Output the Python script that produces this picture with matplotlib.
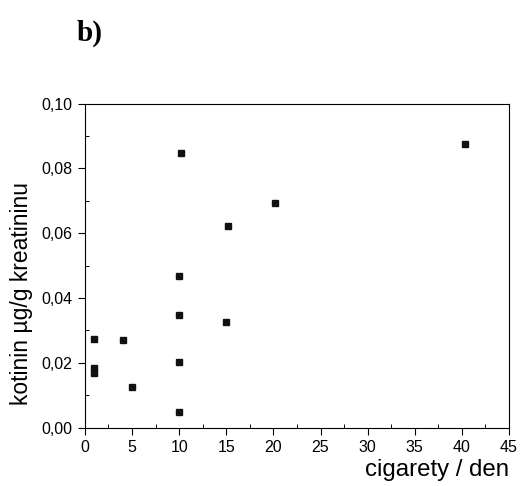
import numpy as np
import matplotlib
matplotlib.use('Agg')
import matplotlib.pyplot as plt
from matplotlib.ticker import MultipleLocator

# values
cigarettes = [1, 1, 1, 4, 5, 10, 10, 10, 10, 10.2, 15, 15.2, 20.2, 40.3]
cotinine = [0.0275, 0.0185, 0.0170, 0.0272, 0.0127, 0.0049, 0.0202, 0.0348,
            0.0468, 0.0846, 0.0325, 0.0622, 0.0692, 0.0875]

x_ticks = [0, 5, 10, 15, 20, 25, 30, 35, 40, 45]
y_ticks = [0.00, 0.02, 0.04, 0.06, 0.08, 0.10]
y_tick_labels = ['0,00', '0,02', '0,04', '0,06', '0,08', '0,10']

plt.rcParams['font.family'] = ['Liberation Sans', 'DejaVu Sans']

fig = plt.figure(figsize=(5.21, 4.86), dpi=100)
ax = fig.add_axes([0.163, 0.120, 0.814, 0.667])

ax.plot(cigarettes, cotinine, 's', color='#111111', markersize=4.3, linestyle='none')

ax.set_xlim(0, 45)
ax.set_ylim(0, 0.10)
ax.set_xticks(x_ticks)
ax.set_xticklabels([str(t) for t in x_ticks])
ax.set_yticks(y_ticks)
ax.set_yticklabels(y_tick_labels)
ax.xaxis.set_minor_locator(MultipleLocator(2.5))
ax.yaxis.set_minor_locator(MultipleLocator(0.01))
ax.tick_params(which='major', direction='out', length=5, width=0.8, labelsize=11.5, pad=4)
ax.tick_params(which='minor', direction='in', length=3, width=0.7)
for s in ax.spines.values():
    s.set_linewidth(0.8)

ax.set_xlabel('cigarety / den', fontsize=17.3, loc='right', labelpad=3)
ax.set_ylabel('kotinin µg/g kreatininu', fontsize=16.5)
ax.yaxis.set_label_coords(-0.122, 0.415)

fig.text(0.148, 0.932, 'b)', fontsize=21, fontweight='bold',
         family=['Liberation Serif', 'DejaVu Serif'], va='center')

fig.savefig('out.png', dpi=100)
